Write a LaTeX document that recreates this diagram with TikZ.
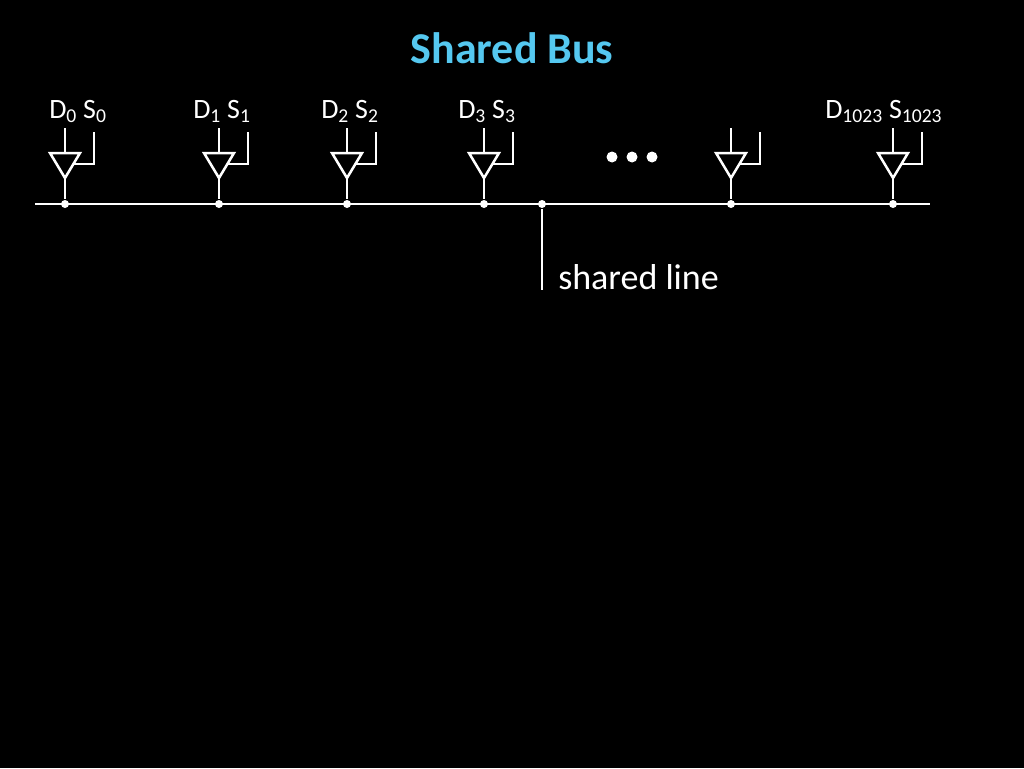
\documentclass[tikz,border=0pt]{standalone}
\usepackage{fontspec}
\setmainfont{Carlito}
\definecolor{ttl}{RGB}{85,200,240}
\begin{document}
\begin{tikzpicture}[x=1pt,y=-1pt,line width=2.5pt,
  wire/.style={draw=white,line width=2.5pt},
  lbl/.style={text=white,font=\fontsize{28}{30}\selectfont,anchor=base west,inner sep=0},
  junc/.style={circle,fill=white,inner sep=0,minimum size=8pt}]
\fill[black] (0,0) rectangle (1024,768);
\useasboundingbox (0,0) rectangle (1024,768);
\node[text=ttl,font=\bfseries\fontsize{44}{48}\selectfont] (title) at (512,48) {Shared Bus};
\coordinate (busL) at (35,204);
\coordinate (busR) at (930,204);
\draw[wire] (busL) -- (busR);
\foreach \i/\x in {0/65,1/219,2/347,3/484,4/731,5/893}{
  \coordinate (in\i) at (\x,128);
  \coordinate (top\i) at (\x,153);
  \coordinate (apex\i) at (\x,178);
  \node[junc] (j\i) at (\x,204) {};
  \coordinate (ctl\i) at (\x+29,132);
  \coordinate (cin\i) at (\x+29,164);
  \draw[wire,line join=miter] (\x-15,153) -- (\x+15,153) -- (apex\i) -- cycle;
  \draw[wire] (in\i) -- (top\i);
  \draw[wire] (apex\i) -- (j\i);
  \draw[wire] (ctl\i) -- (cin\i) -- (\x+8,164);
}
\node[lbl] (l0) at (48,118) {D\textsubscript{0} S\textsubscript{0}};
\node[lbl] (l1) at (192,118) {D\textsubscript{1} S\textsubscript{1}};
\node[lbl] (l2) at (320,118) {D\textsubscript{2} S\textsubscript{2}};
\node[lbl] (l3) at (457,118) {D\textsubscript{3} S\textsubscript{3}};
\node[lbl] (l5) at (824,118) {D\textsubscript{1023} S\textsubscript{1023}};
\foreach \k/\x in {a/612,b/632,c/652}{
  \fill[white] (\x,157) circle (5.5pt);
}
\node[junc] (js) at (542,204) {};
\coordinate (sEnd) at (542,290);
\draw[wire] (js) -- (sEnd);
\node[text=white,font=\fontsize{36}{40}\selectfont,anchor=west,inner sep=0] (sl) at (557,277) {shared line};
\end{tikzpicture}
\end{document}
